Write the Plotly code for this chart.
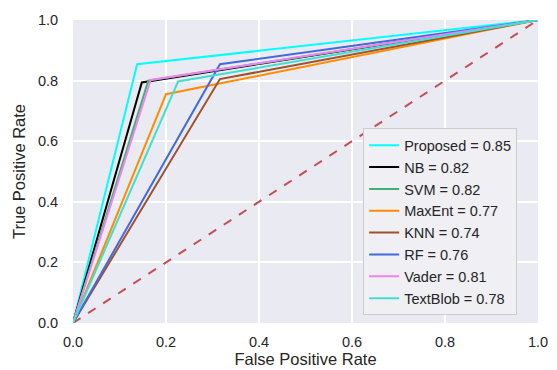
import plotly.graph_objects as go

names = ["Proposed", "NB", "SVM", "MaxEnt", "KNN", "RF", "Vader", "TextBlob"]
auc = [0.85, 0.82, 0.82, 0.77, 0.74, 0.76, 0.81, 0.78]
fpr_mid = [0.138, 0.148, 0.162, 0.200, 0.316, 0.316, 0.167, 0.226]
tpr_mid = [0.854, 0.794, 0.800, 0.755, 0.805, 0.854, 0.802, 0.797]
colors = ["#00FFFF", "#000000", "#3CB371", "#FF8C00", "#A0522D", "#4169E1", "#EE82EE", "#40E0D0"]
ticks = [0, 0.2, 0.4, 0.6, 0.8, 1.0]
tick_text = ["0.0", "0.2", "0.4", "0.6", "0.8", "1.0"]

fig = go.Figure()
fig.add_trace(go.Scatter(x=[0, 1], y=[0, 1], mode="lines",
                         line=dict(color="#C44E52", width=2, dash="dash"),
                         showlegend=False, hoverinfo="skip"))
for n, a, fx, ty, c in zip(names, auc, fpr_mid, tpr_mid, colors):
    fig.add_trace(go.Scatter(x=[0, fx, 1], y=[0, ty, 1], mode="lines",
                             line=dict(color=c, width=2),
                             name=f"{n} = {a:.2f}"))

fig.update_layout(
    width=557, height=370,
    margin=dict(l=73, r=19, t=20, b=47),
    paper_bgcolor="white", plot_bgcolor="#EAEAF2",
    font=dict(family="Liberation Sans, Arial, sans-serif", size=14, color="#262626"),
    legend=dict(x=0.624, y=0.334, xanchor="left", yanchor="middle",
                bgcolor="#EFEFF4", bordercolor="#CCCCCC", borderwidth=1,
                font=dict(size=14.5, color="#262626"), tracegroupgap=0,
                entrywidth=120),
)
fig.update_xaxes(range=[0, 1], tickvals=ticks, ticktext=tick_text, automargin=False,
                 showgrid=True, gridcolor="white", gridwidth=1.5, zeroline=False,
                 showline=False, ticks="outside", ticklen=6, tickcolor="rgba(0,0,0,0)",
                 tickfont=dict(size=14.5),
                 title=dict(text="False Positive Rate", font=dict(size=16.5), standoff=4))
fig.update_yaxes(range=[0, 1], tickvals=ticks, ticktext=tick_text, automargin=False,
                 showgrid=True, gridcolor="white", gridwidth=1.5, zeroline=False,
                 showline=False, ticks="outside", ticklen=11, tickcolor="rgba(0,0,0,0)",
                 tickfont=dict(size=14.5),
                 title=dict(text="True Positive Rate", font=dict(size=16.5), standoff=8))

fig.write_html("out.html", config={"displayModeBar": False},
               post_script="document.body.style.margin='0';")
